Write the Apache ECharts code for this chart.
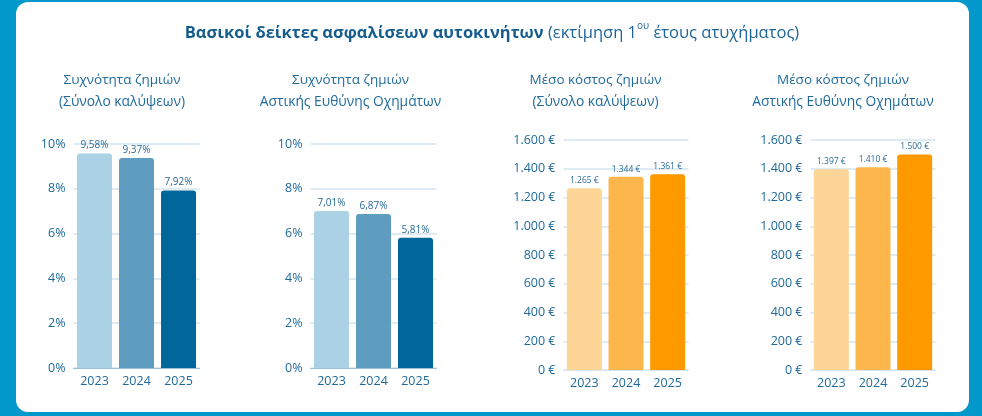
<!DOCTYPE html>
<html>
<head>
<meta charset="utf-8">
<script src="https://cdn.jsdelivr.net/npm/echarts@6/dist/echarts.min.js"></script>
<style>
  html, body { margin: 0; padding: 0; background: #0398cc; }
  #chart { width: 982px; height: 416px; }
</style>
</head>
<body>
<div id="chart"></div>
<script>
"use strict";
// δεδομένα
var years = ['2023', '2024', '2025'];
var freqAll = [9.58, 9.37, 7.92];     // συχνότητα, σύνολο καλύψεων (%)
var freqMtpl = [7.01, 6.87, 5.81];    // συχνότητα, αστική ευθύνη (%)
var costAll = [1265, 1344, 1361];     // μέσο κόστος, σύνολο καλύψεων (€)
var costMtpl = [1397, 1410, 1500];    // μέσο κόστος, αστική ευθύνη (€)
var pctTicks = [0, 2, 4, 6, 8, 10];
var euroTicks = [0, 200, 400, 600, 800, 1000, 1200, 1400, 1600];

var blues = ['#abd1e4', '#5e9dc0', '#016699'];
var oranges = ['#fdd597', '#fdb64c', '#fe9a00'];
var txt = '#1f6a9b';
var font = 'Open Sans';

function pctFmt(v) {
	return String(v).replace('.', ',') + '%';
}
function euroFmt(v) {
	var s = String(Math.round(v));
	if (s.length > 3) s = s.slice(0, s.length - 3) + '.' + s.slice(s.length - 3);
	return s + ' €';
}

// θέσεις των τεσσάρων γραφημάτων
var grids = [
	{ left: 73.5, top: 144, width: 126, height: 224 },
	{ left: 310.5, top: 144, width: 126, height: 224 },
	{ left: 563.5, top: 140, width: 125, height: 230 },
	{ left: 810.5, top: 140, width: 125, height: 230 }
];

var xAxes = [], yAxes = [], series = [];
var sets = [freqAll, freqMtpl, costAll, costMtpl];
for (var i = 0; i < 4; i++) {
	var isPct = i < 2;
	var ticks = isPct ? pctTicks : euroTicks;
	var colors = isPct ? blues : oranges;
	xAxes.push({
		type: 'category', gridIndex: i, data: years,
		axisTick: { show: false },
		axisLine: { show: true, lineStyle: { color: isPct ? '#9cc2da' : '#d5e5ef', width: 1 } },
		axisLabel: { color: txt, fontFamily: font, fontSize: 12.5, margin: 7 }
	});
	yAxes.push({
		type: 'value', gridIndex: i,
		min: ticks[0], max: ticks[ticks.length - 1], interval: ticks[1] - ticks[0],
		axisLine: { show: false }, axisTick: { show: false },
		splitLine: { lineStyle: { color: '#d5e5ef', width: 1.5 } },
		axisLabel: {
			color: txt, fontFamily: font, fontSize: 12.5, margin: 8,
			formatter: isPct ? pctFmt : euroFmt
		}
	});
	series.push({
		type: 'bar', xAxisIndex: i, yAxisIndex: i, barWidth: 35,
		data: sets[i].map(function (v, k) {
			return { value: v, itemStyle: { color: colors[k] } };
		}),
		itemStyle: { borderRadius: [3, 3, 0, 0] },
		label: {
			show: true, position: 'top', distance: 3,
			color: '#2a6a98', fontFamily: font, fontSize: isPct ? 10 : 8.5,
			formatter: (function (p) {
				return function (prm) { return p ? pctFmt(prm.value) : euroFmt(prm.value); };
			})(isPct)
		}
	});
}

var subtitles = [
	['Συχνότητα ζημιών', '(Σύνολο καλύψεων)', 122],
	['Συχνότητα ζημιών', 'Αστικής Ευθύνης Οχημάτων', 350.5],
	['Μέσο κόστος ζημιών', '(Σύνολο καλύψεων)', 595.5],
	['Μέσο κόστος ζημιών', 'Αστικής Ευθύνης Οχημάτων', 843]
];

var graphics = [{
	type: 'rect', z: -10, silent: true,
	shape: { x: 16, y: 2, width: 953, height: 410, r: 12 },
	style: { fill: '#ffffff' }
}, {
	type: 'text', x: 492, y: 33, silent: true,
	style: {
		text: '{b|Βασικοί δείκτες ασφαλίσεων αυτοκινήτων}{n| (εκτίμηση 1}{s|ου}{n| έτους ατυχήματος)}',
		align: 'center', verticalAlign: 'middle',
		rich: {
			b: { fontFamily: font, fontSize: 16.5, fontWeight: 'bold', fill: '#155d8e', lineHeight: 24 },
			n: { fontFamily: font, fontSize: 16.5, fill: '#1d6597', lineHeight: 24 },
			s: { fontFamily: font, fontSize: 10, fill: '#1d6597', lineHeight: 14, verticalAlign: 'top' }
		}
	}
}];
subtitles.forEach(function (s) {
	graphics.push({
		type: 'text', x: s[2], y: 80, silent: true,
		style: { text: s[0], align: 'center', verticalAlign: 'middle', fill: txt, fontFamily: font, fontSize: 13.5 }
	});
	graphics.push({
		type: 'text', x: s[2], y: 102, silent: true,
		style: { text: s[1], align: 'center', verticalAlign: 'middle', fill: txt, fontFamily: font, fontSize: 13.8 }
	});
});

var myChart = echarts.init(document.getElementById('chart'));
myChart.setOption({
	animation: false,
	backgroundColor: '#0398cc',
	grid: grids,
	xAxis: xAxes,
	yAxis: yAxes,
	series: series,
	graphic: graphics
});
</script>
</body>
</html>
